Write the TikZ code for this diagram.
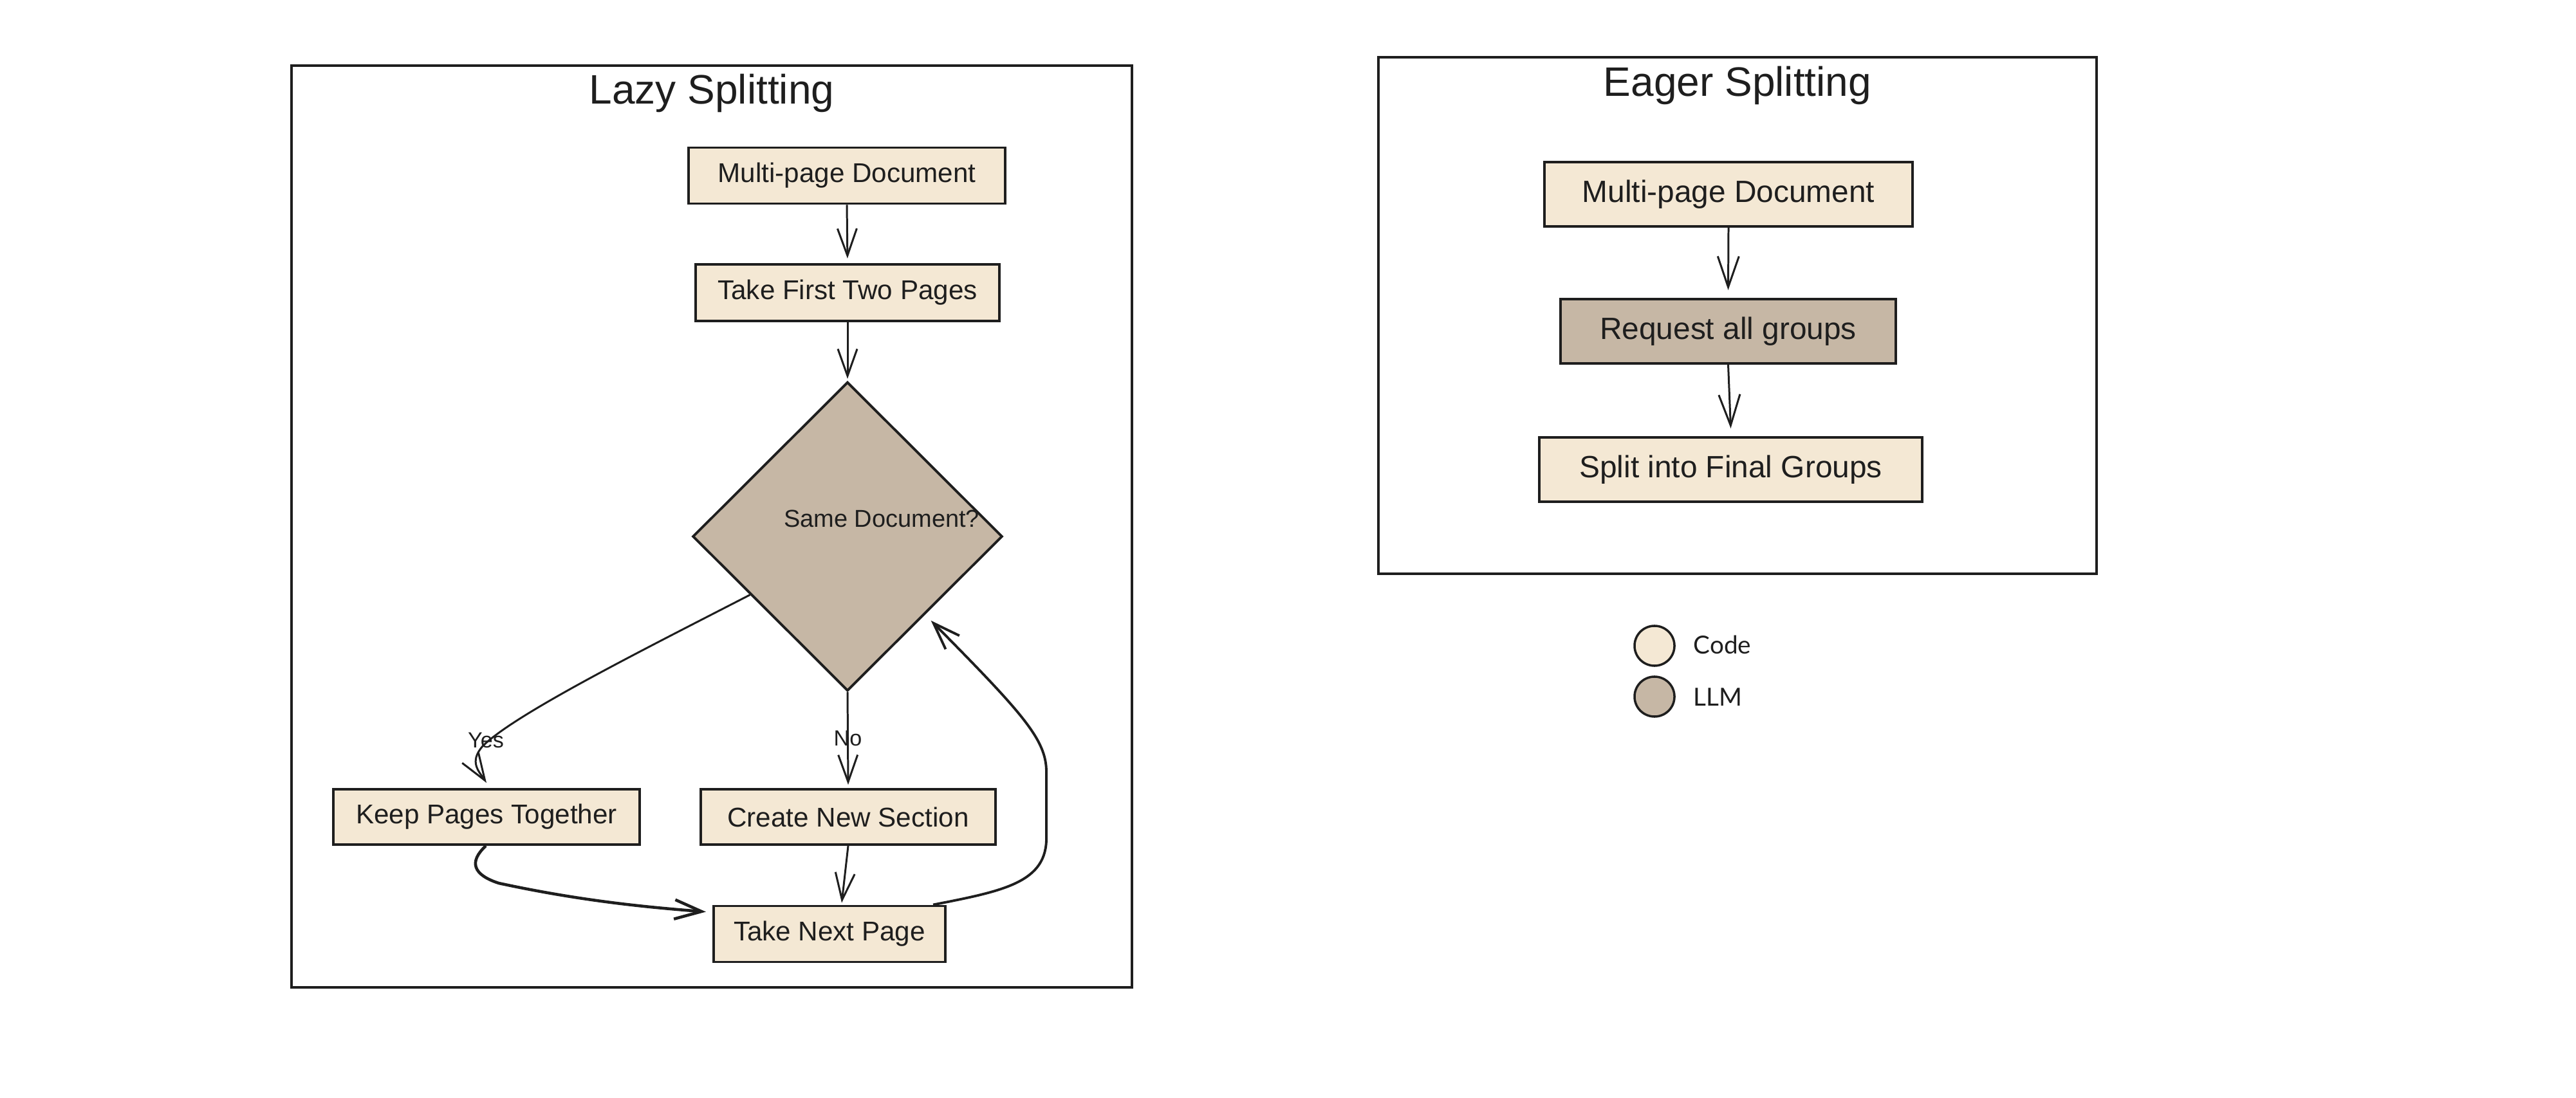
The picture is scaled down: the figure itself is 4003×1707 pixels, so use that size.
\documentclass[tikz,border=0pt]{standalone}
\usepackage{fontspec}
\setmainfont{Liberation Sans}
\newfontfamily\legendfont{Lato}
\usetikzlibrary{arrows.meta,calc,shapes.geometric}
\definecolor{cream}{HTML}{F4E8D4}
\definecolor{tan}{HTML}{C6B7A5}
\definecolor{ink}{HTML}{1E1E1E}
\begin{document}
\begin{tikzpicture}[x=0.01cm,y=-0.01cm,
  frame/.style={draw=ink,line width=1.1pt,inner sep=0pt},
  box/.style={draw=ink,line width=1.1pt,fill=cream,inner sep=0pt,text=ink,font=\fontsize{12}{14}\selectfont},
  ebox/.style={box,font=\fontsize{13.6}{16}\selectfont},
  llmbox/.style={ebox,fill=tan},
  titletext/.style={font=\fontsize{18.2}{22}\selectfont,text=ink,inner sep=0pt,anchor=base},
  conn/.style={draw=ink,line width=0.85pt,-{Straight Barb[length=4.2mm,width=3mm]}},
  econn/.style={conn,-{Straight Barb[length=4.8mm,width=3.3mm]}},
  lbl/.style={font=\fontsize{9.7}{11}\selectfont,text=ink,inner sep=0pt},
  qtext/.style={font=\fontsize{10.8}{12}\selectfont,text=ink,inner sep=0pt},
  legdot/.style={circle,draw=ink,line width=1pt,minimum size=0.62cm,inner sep=0pt},
  legtext/.style={font=\legendfont\fontsize{11}{13}\selectfont,text=ink,inner sep=0pt,anchor=west}]
\useasboundingbox (0,0) rectangle (4003,1707);

% ---------- Lazy splitting ----------
\node[frame,minimum width=13.06cm,minimum height=14.33cm] (lazyframe) at (1106,818.5) {};
\node[titletext] (lazytitle) at (1106,162) {Lazy Splitting};

\node[box,minimum width=4.92cm,minimum height=0.87cm] (ld1) at (1316,273) {Multi-page Document};
\node[box,minimum width=4.72cm,minimum height=0.88cm] (ld2) at (1317,455) {Take First Two Pages};
\node[diamond,draw=ink,line width=1.1pt,fill=tan,minimum width=4.81cm,minimum height=4.8cm,inner sep=0pt] (dia) at (1317,834) {};
\node[qtext] (diaq) at (1370,806) {Same Document?};
\node[box,minimum width=4.76cm,minimum height=0.86cm] (keep) at (756,1270) {Keep Pages Together};
\node[box,minimum width=4.57cm,minimum height=0.86cm] (cns) at (1318,1270) {Create New Section};
\node[box,minimum width=3.60cm,minimum height=0.87cm] (tnp) at (1289,1452) {Take Next Page};

\draw[conn] (ld1.south) -- ($(ld1.south)!0.92!(ld2.north)$);
\draw[conn] (ld2.south) -- ($(dia.north)+(0,-3)$);
\draw[conn] ($(dia.west)!0.375!(dia.south)$) .. controls (1000,1010) and (800,1110) .. (750,1160)
   .. controls (728,1185) and (745,1200) .. ($(keep.north)+(0,-8)$);
\node[lbl] (yes) at (755,1151) {Yes};
\draw[conn] (dia.south) -- node[lbl] (no) {No} ($(cns.north)+(0,-5)$);
\draw[conn] (cns.south) -- ($(tnp.north)+(19,-3)$);
\draw[conn,line width=1.3pt] ($(keep.south)+(-1,0)$) .. controls (728,1340) and (735,1360) .. (775,1373)
   .. controls (900,1400) and (1000,1410) .. ($(tnp.north west)+(-10,11)$);
\draw[conn,line width=1.1pt] ($(tnp.north east)+(-21,0)$) .. controls (1560,1385) and (1628,1372) .. (1626,1300)
   -- (1626,1200) .. controls (1626,1150) and (1590,1110) .. ($(dia.east)!0.54!(dia.south)+(18,0)$);

% ---------- Eager splitting ----------
\node[frame,minimum width=11.16cm,minimum height=8.03cm] (eagerframe) at (2700,490.5) {};
\node[titletext] (eagertitle) at (2700,150) {Eager Splitting};
\node[ebox,minimum width=5.72cm,minimum height=1.0cm] (ed1) at (2686,302) {Multi-page Document};
\node[llmbox,minimum width=5.21cm,minimum height=1.0cm] (ed2) at (2685.5,515) {Request all groups};
\node[ebox,minimum width=5.95cm,minimum height=1.0cm] (ed3) at (2689.5,730) {Split into Final Groups};
\draw[econn] (ed1.south) -- ($(ed2.north)+(0,-12)$);
\draw[econn] (ed2.south) -- ($(ed3.north)+(0,-12)$);

% ---------- Legend ----------
\node[legdot,fill=cream] (lcode) at (2571,1004) {};
\node[legtext] (lcodet) at (2631,1002) {Code};
\node[legdot,fill=tan] (lllm) at (2571,1083) {};
\node[legtext] (lllmt) at (2631,1084) {LLM};
\end{tikzpicture}
\end{document}
